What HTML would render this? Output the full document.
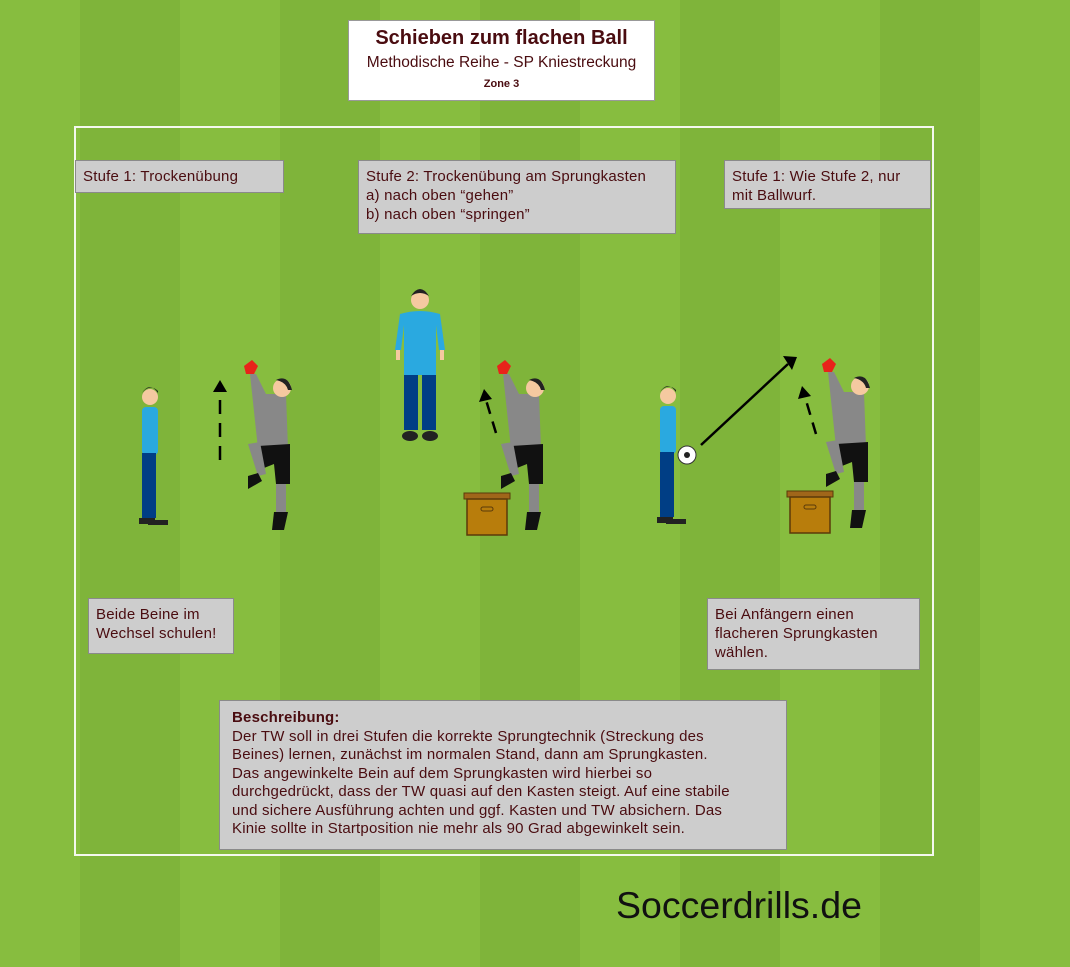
<!DOCTYPE html>
<html><head><meta charset="utf-8"><style>
body{margin:0;width:1070px;height:967px;overflow:hidden;position:relative;font-family:"Liberation Sans",sans-serif;
background:linear-gradient(90deg,#87bd3f 0 80px,#7fb43a 80px 180px,#87bd3f 180px 280px,#7fb43a 280px 380px,#87bd3f 380px 480px,#7fb43a 480px 580px,#87bd3f 580px 680px,#7fb43a 680px 780px,#87bd3f 780px 880px,#7fb43a 880px 980px,#87bd3f 980px 1070px);}
.b{position:absolute;background:#cdcdcd;border:1px solid #8a8a8a;color:#4a0c10;font-size:15px;line-height:19px;padding:6px 7px;box-sizing:border-box;white-space:nowrap;letter-spacing:0.2px}
</style></head><body>
<div style="position:absolute;left:74px;top:126px;width:860px;height:730px;border:2px solid #f4f8ee;box-sizing:border-box"></div>
<div style="position:absolute;left:348px;top:20px;width:307px;height:81px;background:#fff;border:1px solid #999;box-sizing:border-box;text-align:center;color:#4a0c10">
<div style="font-size:20px;font-weight:bold;margin-top:6px">Schieben zum flachen Ball</div>
<div style="font-size:15.5px;margin-top:4px">Methodische Reihe - SP Kniestreckung</div>
<div style="font-size:11px;font-weight:bold;margin-top:6px">Zone 3</div></div>
<div class="b" style="left:75px;top:160px;width:209px;height:33px">Stufe 1: Trockenübung</div>
<div class="b" style="left:358px;top:160px;width:318px;height:74px">Stufe 2: Trockenübung am Sprungkasten<br>a) nach oben “gehen”<br>b) nach oben “springen”</div>
<div class="b" style="left:724px;top:160px;width:207px;height:49px">Stufe 1: Wie Stufe 2, nur<br>mit Ballwurf.</div>
<div class="b" style="left:88px;top:598px;width:146px;height:56px">Beide Beine im<br>Wechsel schulen!</div>
<div class="b" style="left:707px;top:598px;width:213px;height:72px">Bei Anfängern einen<br>flacheren Sprungkasten<br>wählen.</div>
<div class="b" style="left:219px;top:700px;width:568px;height:150px;padding:8px 12px;line-height:18.5px;font-size:15px"><b>Beschreibung:</b><br>Der TW soll in drei Stufen die korrekte Sprungtechnik (Streckung des<br>Beines) lernen, zunächst im normalen Stand, dann am Sprungkasten.<br>Das angewinkelte Bein auf dem Sprungkasten wird hierbei so<br>durchgedrückt, dass der TW quasi auf den Kasten steigt. Auf eine stabile<br>und sichere Ausführung achten und ggf. Kasten und TW absichern. Das<br>Kinie sollte in Startposition nie mehr als 90 Grad abgewinkelt sein.</div>
<div style="position:absolute;left:616px;top:884px;font-size:37.5px;color:#111">Soccerdrills.de</div>
<svg width="1070" height="967" style="position:absolute;left:0;top:0">
<defs>
<g id="man">
<circle cx="0" cy="12" r="8" fill="#f5c9a0"/><path d="M-8 8 q8-12 16 0 v-2 q-8-8-16 2z" fill="#222"/>
<rect x="-8" y="22" width="16" height="48" rx="4" fill="#2aa9e0"/>
<rect x="-8" y="68" width="14" height="65" fill="#003e85"/>
<path d="M-11 133 h16 v6 h-16z M-2 135 h20 v5 h-20z" fill="#222"/>
</g>
<g id="coach">
<circle cx="0" cy="10" r="9" fill="#f5c9a0"/><path d="M-9 6 q9-14 18 0 q-9-6-18 0z" fill="#222"/>
<path d="M-20 24 q20-6 40 0 l5 36 h-6 l-3-25 v50 h-32 v-50 l-3 25 h-6z" fill="#2aa9e0"/>
<rect x="-24" y="60" width="4" height="10" fill="#f5c9a0"/><rect x="20" y="60" width="4" height="10" fill="#f5c9a0"/>
<rect x="-16" y="85" width="14" height="55" fill="#003e85"/><rect x="2" y="85" width="14" height="55" fill="#003e85"/>
<ellipse cx="-10" cy="146" rx="8" ry="5" fill="#222"/><ellipse cx="10" cy="146" rx="8" ry="5" fill="#222"/>
</g>
<g id="gk">
<path d="M-18 0 l8 -6 l6 6 l-4 8 h-8z" fill="#e8231a"/>
<path d="M-12 8 l6 0 l10 20 l20 0 l2 55 h-30 z" fill="#888"/>
<circle cx="20" cy="22" r="9" fill="#f5c9a0"/><path d="M14 14 q12-6 16 10 l-4 0 q-2-8-12-10z" fill="#222"/>
<path d="M-4 80 l32 -2 l0 40 l-14 0 l-2 -20 l-10 4z" fill="#111"/>
<path d="M-14 78 l12 -2 l6 32 l-8 2z" fill="#888"/><path d="M-14 110 l10 -3 l4 8 l-14 8z" fill="#111"/>
<rect x="14" y="118" width="10" height="30" fill="#888"/><path d="M12 146 h14 l-4 18 h-12z" fill="#111"/>
</g>
<g id="box"><rect x="0" y="0" width="46" height="6" fill="#a0661a" stroke="#5a3a0a"/><rect x="3" y="6" width="40" height="36" fill="#b87d0c" stroke="#5a3a0a" stroke-width="1.5"/><rect x="17" y="14" width="12" height="4" rx="2" fill="none" stroke="#5a3a0a"/></g>
</defs>
<use href="#man" x="150" y="385"/>
<use href="#gk" x="262" y="366"/>
<use href="#coach" x="420" y="290"/>
<use href="#gk" x="515" y="366"/>
<use href="#box" x="464" y="493"/>
<use href="#man" x="668" y="384"/>
<circle cx="687" cy="455" r="9" fill="#fff" stroke="#333"/><circle cx="687" cy="455" r="3" fill="#222"/>
<use href="#gk" x="840" y="364"/>
<use href="#box" x="787" y="491"/>
<line x1="220" y1="460" x2="220" y2="390" stroke="#000" stroke-width="2.5" stroke-dasharray="14,9"/>
<path d="M213 392 L220 380 L227 392z" fill="#000"/>
<line x1="496" y1="433" x2="486" y2="400" stroke="#000" stroke-width="2.5" stroke-dasharray="12,8"/>
<path d="M479 402 L484 389 L492 399z" fill="#000"/>
<line x1="816" y1="434" x2="805" y2="397" stroke="#000" stroke-width="2.5" stroke-dasharray="12,8"/>
<path d="M798 399 L802 386 L811 396z" fill="#000"/>
<line x1="701" y1="445" x2="788" y2="364" stroke="#000" stroke-width="2.5"/>
<path d="M783 356 L797 357 L792 370z" fill="#000"/>
</svg>
</body></html>
